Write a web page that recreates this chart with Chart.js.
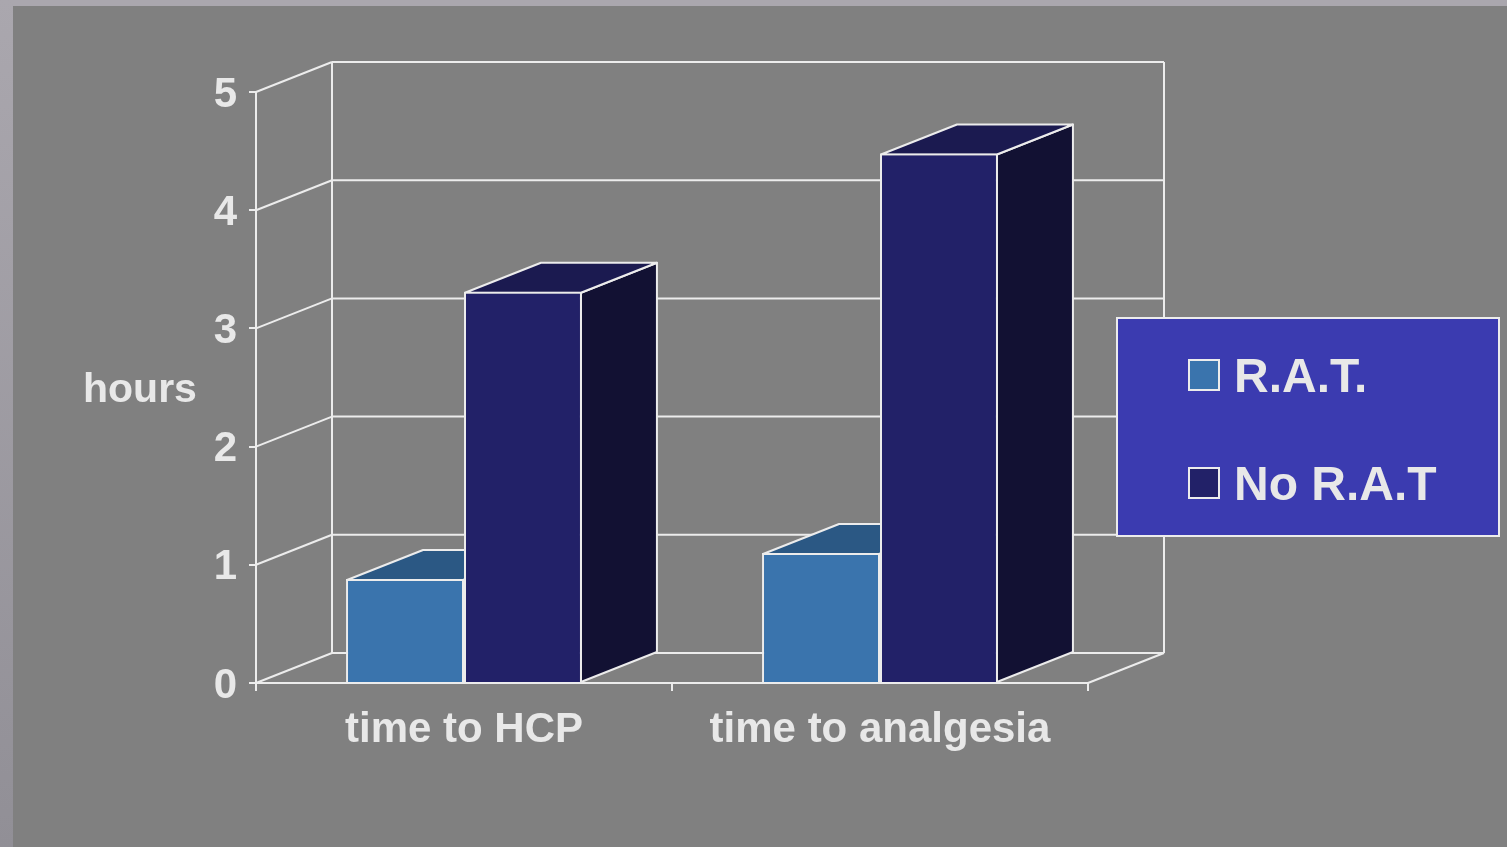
<!DOCTYPE html>
<html>
<head>
<meta charset="utf-8">
<script src="https://cdn.jsdelivr.net/npm/chart.js@4.4.1/dist/chart.umd.min.js"></script>
<style>
  html, body { margin: 0; padding: 0; background: #808080; overflow: hidden; }
  canvas { display: block; }
</style>
</head>
<body>
<canvas id="chart" width="1507" height="847"></canvas>
<script>
// Chart data
const categories = ['time to HCP', 'time to analgesia'];
const seriesNames = ['R.A.T.', 'No R.A.T'];
const ratHours = [0.88, 1.1];
const noRatHours = [3.31, 4.48];
const yTickValues = [0, 1, 2, 3, 4, 5];
const axisTitle = 'hours';

// Styling
const FONT = '"Liberation Sans", Arial, sans-serif';
const TEXT = '#e8e8e8';
const LINE = '#ececec';
const DEPTH_X = 76;
const DEPTH_Y = -30;
const faceColors = [
  { front: '#3a74ad', top: '#2b5884', side: '#1f4161' },
  { front: '#222168', top: '#1b1a50', side: '#121133' }
];

Chart.defaults.font.family = FONT;

function strokeLine(ctx, x1, y1, x2, y2) {
  ctx.beginPath();
  ctx.moveTo(x1, y1);
  ctx.lineTo(x2, y2);
  ctx.stroke();
}

function fillPoly(ctx, pts, fill) {
  ctx.beginPath();
  ctx.moveTo(pts[0][0], pts[0][1]);
  for (let i = 1; i < pts.length; i++) ctx.lineTo(pts[i][0], pts[i][1]);
  ctx.closePath();
  ctx.fillStyle = fill;
  ctx.fill();
  ctx.stroke();
}

// Slide frame, 3D walls and the top/side faces of each bar
const box3d = {
  id: 'box3d',
  beforeDraw(chart) {
    const { ctx, width, height } = chart;
    ctx.save();
    ctx.fillStyle = '#aaa7ae';
    ctx.fillRect(0, 0, width, height);
    const g = ctx.createLinearGradient(0, 0, 0, height);
    g.addColorStop(0, '#aaa7ae');
    g.addColorStop(1, '#918f96');
    ctx.fillStyle = g;
    ctx.fillRect(0, 0, 13, height);
    ctx.fillStyle = '#808080';
    ctx.fillRect(13, 6, width - 13, height - 6);
    ctx.restore();
  },
  beforeDatasetsDraw(chart) {
    const { ctx, chartArea: a, scales: { y } } = chart;
    ctx.save();
    ctx.strokeStyle = LINE;
    ctx.lineWidth = 2;
    ctx.lineJoin = 'round';
    const top = y.getPixelForValue(yTickValues[yTickValues.length - 1]);
    const bottom = y.getPixelForValue(0);
    // side wall and back wall grid lines
    yTickValues.forEach(v => {
      const py = y.getPixelForValue(v);
      strokeLine(ctx, a.left, py, a.left + DEPTH_X, py + DEPTH_Y);
      strokeLine(ctx, a.left + DEPTH_X, py + DEPTH_Y, a.right + DEPTH_X, py + DEPTH_Y);
    });
    strokeLine(ctx, a.left + DEPTH_X, top + DEPTH_Y, a.left + DEPTH_X, bottom + DEPTH_Y);
    strokeLine(ctx, a.right + DEPTH_X, top + DEPTH_Y, a.right + DEPTH_X, bottom + DEPTH_Y);
    strokeLine(ctx, a.right, bottom, a.right + DEPTH_X, bottom + DEPTH_Y);

    // bar side and top faces
    chart.data.datasets.forEach((ds, di) => {
      const meta = chart.getDatasetMeta(di);
      const c = faceColors[di];
      meta.data.forEach(bar => {
        const p = bar.getProps(['x', 'y', 'base', 'width'], true);
        const l = p.x - p.width / 2 + 1;
        const r = p.x + p.width / 2 - 1;
        const t = p.y + 1;
        fillPoly(ctx, [[r, t], [r + DEPTH_X, t + DEPTH_Y], [r + DEPTH_X, p.base + DEPTH_Y], [r, p.base]], c.side);
        fillPoly(ctx, [[l, t], [l + DEPTH_X, t + DEPTH_Y], [r + DEPTH_X, t + DEPTH_Y], [r, t]], c.top);
      });
    });
    ctx.restore();
  },
  afterDraw(chart) {
    const { ctx } = chart;
    ctx.save();
    // axis title
    ctx.fillStyle = TEXT;
    ctx.font = 'bold 41px ' + FONT;
    ctx.textBaseline = 'alphabetic';
    ctx.textAlign = 'left';
    ctx.fillText(axisTitle, 83, 402);

    // legend
    ctx.fillStyle = '#3b3bb0';
    ctx.fillRect(1117, 318, 382, 218);
    ctx.strokeStyle = LINE;
    ctx.lineWidth = 2;
    ctx.strokeRect(1117, 318, 382, 218);
    const rows = [375, 483];
    chart.data.datasets.forEach((ds, i) => {
      const cy = rows[i];
      ctx.fillStyle = ds.backgroundColor;
      ctx.fillRect(1189, cy - 15, 30, 30);
      ctx.strokeRect(1189, cy - 15, 30, 30);
      ctx.fillStyle = TEXT;
      ctx.font = 'bold 48px ' + FONT;
      ctx.fillText(ds.label, 1234, cy + 17);
    });
    ctx.restore();
  }
};

new Chart(document.getElementById('chart'), {
  type: 'bar',
  data: {
    labels: categories,
    datasets: [
      {
        label: seriesNames[0],
        data: ratHours,
        backgroundColor: faceColors[0].front,
        borderColor: LINE,
        borderWidth: 2
      },
      {
        label: seriesNames[1],
        data: noRatHours,
        backgroundColor: faceColors[1].front,
        borderColor: LINE,
        borderWidth: 2
      }
    ]
  },
  options: {
    responsive: false,
    animation: false,
    categoryPercentage: 0.567,
    barPercentage: 1,
    layout: { padding: { top: 92, right: 419, bottom: 0, left: 0 } },
    plugins: { legend: { display: false }, tooltip: { enabled: false } },
    scales: {
      x: {
        grid: { offset: true, drawOnChartArea: false, color: LINE, lineWidth: 2, tickLength: 8 },
        border: { color: LINE, width: 2 },
        ticks: { color: TEXT, font: { size: 42, weight: 'bold' }, padding: 14 },
        afterFit(scale) { scale.height = 164; }
      },
      y: {
        min: 0,
        max: 5,
        afterBuildTicks(scale) { scale.ticks = yTickValues.map(v => ({ value: v })); },
        grid: { drawOnChartArea: false, color: LINE, lineWidth: 2, tickLength: 7 },
        border: { color: LINE, width: 2 },
        ticks: { color: TEXT, font: { size: 42, weight: 'bold' }, padding: 12, labelOffset: 3 },
        afterFit(scale) { scale.width = 256; }
      }
    }
  },
  plugins: [box3d]
});
</script>
</body>
</html>
